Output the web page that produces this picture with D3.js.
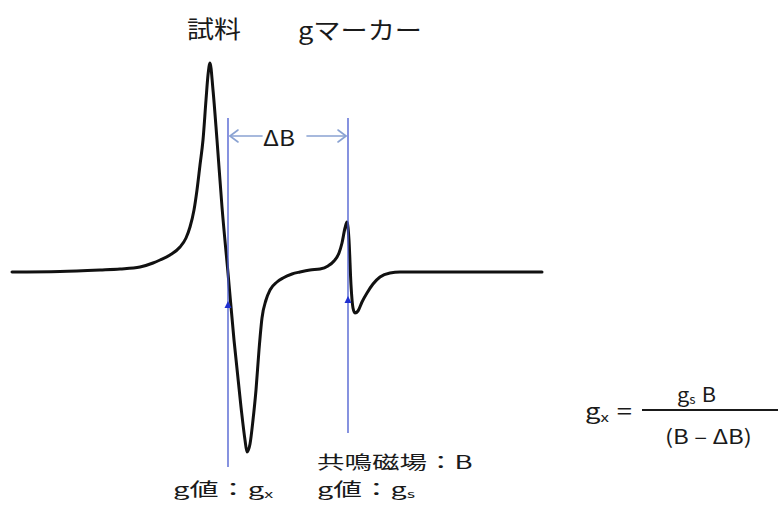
<!DOCTYPE html>
<html>
<head>
<meta charset="utf-8">
<script src="https://cdn.jsdelivr.net/npm/d3@7"></script>
<style>
  html, body { margin: 0; padding: 0; background: #fff; }
  svg { display: block; }
  text { font-family: "Noto Sans CJK JP", "Noto Sans", sans-serif; fill: #1a1a1a; }
</style>
</head>
<body>
<svg id="chart" width="779" height="512"></svg>
<script>
// ESR spectrum: magnetic field (arbitrary units) vs first-derivative signal
const field = [0, 48, 88, 108, 128, 141, 148, 158, 168, 174, 178, 182, 185, 188, 191, 194, 196, 198,
  201, 205, 210, 216, 222, 229, 233, 235, 238, 241, 244, 247, 250, 254, 258, 265, 271, 280, 288,
  298, 308, 316, 322, 327, 330, 333, 335, 337, 339, 341, 343, 346, 350, 355, 361, 368, 378, 388, 530];
const signal = [0, 0.5, 2, 3, 5, 9, 12, 17, 25, 34, 45, 62, 82, 107, 132, 172, 197, 209,
  182, 132, 65, -1, -68, -135, -168, -180, -172, -148, -118, -78, -46, -28, -18, -10, -6, -2, 0,
  2, 3, 6, 11, 19, 29, 44, 50, 32, -13, -36, -41, -39, -30, -21, -12, -5, -1, 0, 0];

// resonance positions: sample (g_x) and g-marker (g_s)
const resonanceFields = [216, 336];
const resonanceNames = ["sample", "marker"];

// label texts
const topLabels = ["試料", "gマーカー"];
const deltaLabel = "ΔB";

const svg = d3.select("#chart");

const x = d3.scaleLinear().domain([0, 530]).range([12, 542]);
const y = d3.scaleLinear().domain([-180, 209]).range([452, 63]);

const pts = field.map((f, i) => [f, signal[i]]);

const line = d3.line()
  .x(d => x(d[0]))
  .y(d => y(d[1]))
  .curve(d3.curveMonotoneX);

svg.append("path")
  .datum(pts)
  .attr("d", line)
  .attr("fill", "none")
  .attr("stroke", "#111")
  .attr("stroke-width", 3)
  .attr("stroke-linejoin", "round")
  .attr("stroke-linecap", "round");

// vertical resonance lines
const lineSpan = { sample: [118, 467], marker: [118, 433] };
const tickY = { sample: 305, marker: 300 };
resonanceFields.forEach((f, i) => {
  const name = resonanceNames[i];
  const xp = x(f);
  svg.append("line")
    .attr("x1", xp).attr("x2", xp)
    .attr("y1", lineSpan[name][0]).attr("y2", lineSpan[name][1])
    .attr("stroke", "#4d5fd0")
    .attr("stroke-opacity", 0.85)
    .attr("stroke-width", 1.6);
  const ty = tickY[name];
  svg.append("path")
    .attr("d", `M${xp - 3.5},${ty + 3} L${xp},${ty - 4} L${xp + 3.5},${ty + 3} Z`)
    .attr("fill", "#1f2fd0");
});

// ΔB double arrow
const arrowY = 136;
const xa = x(resonanceFields[0]) + 2;
const xb = x(resonanceFields[1]) - 2;
const arrowCol = "#8aa2d2";
const arrowG = svg.append("g")
  .attr("stroke", arrowCol).attr("stroke-width", 1.6).attr("fill", "none")
  .attr("stroke-linecap", "round").attr("stroke-linejoin", "round");
arrowG.append("line").attr("x1", xa).attr("x2", 262).attr("y1", arrowY).attr("y2", arrowY);
arrowG.append("line").attr("x1", 307).attr("x2", xb).attr("y1", arrowY).attr("y2", arrowY);
arrowG.append("path").attr("d", `M${xa + 8},${arrowY - 6} L${xa},${arrowY} L${xa + 8},${arrowY + 6}`);
arrowG.append("path").attr("d", `M${xb - 8},${arrowY - 6} L${xb},${arrowY} L${xb - 8},${arrowY + 6}`);

// fits a text node horizontally into [x0, x1]
function fitText(sel, x0, x1) {
  const bb = sel.node().getBBox();
  const sx = (x1 - x0) / bb.width;
  sel.attr("transform", `translate(${x0},0) scale(${sx},1) translate(${-bb.x},0)`);
}

function label(parts, size, cy, x0, x1) {
  const t = svg.append("text")
    .attr("x", 0).attr("y", cy)
    .attr("dominant-baseline", "central")
    .style("font-size", size + "px");
  parts.forEach(p => {
    if (p.sub) {
      t.append("tspan").attr("dy", size * 0.28).style("font-size", (size * 0.62) + "px").text(p.t);
      t.append("tspan").attr("dy", -size * 0.28).text("\u200a");
    } else {
      t.append("tspan").text(p.t);
    }
  });
  fitText(t, x0, x1);
  return t;
}

label([{ t: topLabels[0] }], 24, 27, 187, 241);
label([{ t: topLabels[1] }], 24, 28, 298, 422);
label([{ t: deltaLabel }], 22, 137, 263, 295);

label([{ t: "共鳴磁場：B" }], 18, 461, 317, 473);
label([{ t: "g値：g" }, { t: "x", sub: true }], 18, 488, 173, 275);
label([{ t: "g値：g" }, { t: "s", sub: true }], 18, 488, 317, 417);

// formula g_x = g_s B / (B − ΔB)
label([{ t: "g" }, { t: "x", sub: true }, { t: " =" }], 21, 410, 585, 632);
svg.append("line")
  .attr("x1", 642).attr("x2", 778).attr("y1", 410).attr("y2", 410)
  .attr("stroke", "#1a1a1a").attr("stroke-width", 2);
label([{ t: "g" }, { t: "s", sub: true }, { t: " B" }], 20, 393, 677, 716);
label([{ t: "(B – ΔB)" }], 20, 435, 665, 752);
</script>
</body>
</html>
